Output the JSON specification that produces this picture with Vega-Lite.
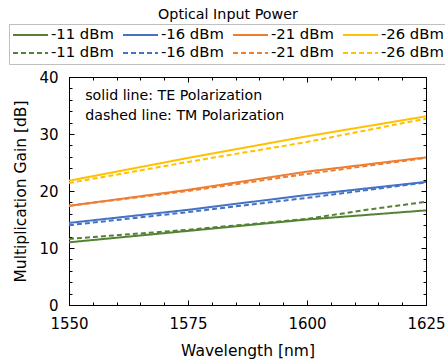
{
  "$schema": "https://vega.github.io/schema/vega-lite/v6.json",
  "autosize": {"type": "none"},
  "padding": {"left": 69, "top": 77, "right": 19, "bottom": 58},
  "width": 357,
  "height": 228,
  "title": {"text": "Optical Input Power", "anchor": "middle", "frame": "bounds", "font": "DejaVu Sans", "fontSize": 14.3, "fontWeight": "normal", "color": "#000", "offset": 1},
  "config": {
    "font": "DejaVu Sans",
    "view": {"stroke": "#000", "strokeWidth": 1},
    "axis": {"grid": false, "domainColor": "#000", "tickColor": "#000", "labelColor": "#000", "titleColor": "#000", "labelFont": "DejaVu Sans", "titleFont": "DejaVu Sans", "labelFontSize": 15, "titleFontSize": 15.5, "titleFontWeight": "normal"}
  },
  "resolve": {"axis": {"x": "independent", "y": "independent"}},
  "layer": [
    {
      "data": {"values": [
        {"series": "TE -11 dBm", "wl": 1550, "gain": 11.0},
        {"series": "TE -11 dBm", "wl": 1575, "gain": 13.0},
        {"series": "TE -11 dBm", "wl": 1600, "gain": 15.0},
        {"series": "TE -11 dBm", "wl": 1625, "gain": 16.6},
        {"series": "TM -11 dBm", "wl": 1550, "gain": 11.6},
        {"series": "TM -11 dBm", "wl": 1575, "gain": 13.2},
        {"series": "TM -11 dBm", "wl": 1600, "gain": 15.1},
        {"series": "TM -11 dBm", "wl": 1612.5, "gain": 16.7},
        {"series": "TM -11 dBm", "wl": 1625, "gain": 18.1},
        {"series": "TE -16 dBm", "wl": 1550, "gain": 14.4},
        {"series": "TE -16 dBm", "wl": 1575, "gain": 16.7},
        {"series": "TE -16 dBm", "wl": 1600, "gain": 19.3},
        {"series": "TE -16 dBm", "wl": 1625, "gain": 21.6},
        {"series": "TM -16 dBm", "wl": 1550, "gain": 14.0},
        {"series": "TM -16 dBm", "wl": 1575, "gain": 16.3},
        {"series": "TM -16 dBm", "wl": 1600, "gain": 18.8},
        {"series": "TM -16 dBm", "wl": 1625, "gain": 21.5},
        {"series": "TE -21 dBm", "wl": 1550, "gain": 17.4},
        {"series": "TE -21 dBm", "wl": 1575, "gain": 20.2},
        {"series": "TE -21 dBm", "wl": 1600, "gain": 23.4},
        {"series": "TE -21 dBm", "wl": 1625, "gain": 25.9},
        {"series": "TM -21 dBm", "wl": 1550, "gain": 17.4},
        {"series": "TM -21 dBm", "wl": 1575, "gain": 20.0},
        {"series": "TM -21 dBm", "wl": 1600, "gain": 23.0},
        {"series": "TM -21 dBm", "wl": 1625, "gain": 25.8},
        {"series": "TE -26 dBm", "wl": 1550, "gain": 21.8},
        {"series": "TE -26 dBm", "wl": 1575, "gain": 25.8},
        {"series": "TE -26 dBm", "wl": 1600, "gain": 29.6},
        {"series": "TE -26 dBm", "wl": 1625, "gain": 33.1},
        {"series": "TM -26 dBm", "wl": 1550, "gain": 21.4},
        {"series": "TM -26 dBm", "wl": 1575, "gain": 25.1},
        {"series": "TM -26 dBm", "wl": 1600, "gain": 28.6},
        {"series": "TM -26 dBm", "wl": 1625, "gain": 32.7}
      ]},
      "mark": {"type": "line", "strokeWidth": 2, "clip": true},
      "encoding": {
        "x": {"field": "wl", "type": "quantitative", "scale": {"domain": [1550, 1625], "nice": false, "zero": false},
          "axis": {"orient": "bottom", "title": "Wavelength [nm]", "format": "d", "values": [1550,1555,1560,1565,1570,1575,1580,1585,1590,1595,1600,1605,1610,1615,1620,1625],
            "labelExpr": "datum.value % 25 === 0 ? datum.label : ''",
            "tickSize": {"condition": {"test": "datum.value % 25 === 0", "value": -5}, "value": -3},
            "labelPadding": 16, "titlePadding": 10, "labelFlush": false, "labelOverlap": false}},
        "y": {"field": "gain", "type": "quantitative", "scale": {"domain": [0, 40], "nice": false},
          "axis": {"orient": "left", "title": "Multiplication Gain [dB]", "values": [0,2,4,6,8,10,12,14,16,18,20,22,24,26,28,30,32,34,36,38,40],
            "labelExpr": "datum.value % 10 === 0 ? datum.label : ''",
            "tickSize": {"condition": {"test": "datum.value % 10 === 0", "value": -5}, "value": -3},
            "labelPadding": 16, "titlePadding": 10, "labelOverlap": false}},
        "color": {"field": "series", "type": "nominal",
          "scale": {"domain": ["TE -11 dBm","TE -16 dBm","TE -21 dBm","TE -26 dBm","TM -11 dBm","TM -16 dBm","TM -21 dBm","TM -26 dBm"],
            "range": ["#548235","#4472C4","#ED7D31","#FFC000","#548235","#4472C4","#ED7D31","#FFC000"]},
          "legend": {"orient": "none", "legendX": -60, "legendY": -53, "title": null, "columns": 4, "direction": "horizontal",
            "labelExpr": "slice(datum.label, 3)", "labelFont": "DejaVu Sans", "labelFontSize": 14.8, "labelColor": "#000",
            "symbolType": "stroke", "symbolSize": 1225, "symbolStrokeWidth": 2, "labelOffset": 2, "clipHeight": 16,
            "columnPadding": 8, "rowPadding": 2, "padding": 3, "strokeColor": "#bfbfbf"}},
        "strokeDash": {"field": "series", "type": "nominal",
          "scale": {"domain": ["TE -11 dBm","TE -16 dBm","TE -21 dBm","TE -26 dBm","TM -11 dBm","TM -16 dBm","TM -21 dBm","TM -26 dBm"],
            "range": [[1,0],[1,0],[1,0],[1,0],[5,3],[5,3],[5,3],[5,3]]},
          "legend": {"orient": "none", "legendX": -60, "legendY": -53, "title": null, "columns": 4, "direction": "horizontal",
            "labelExpr": "slice(datum.label, 3)", "labelFont": "DejaVu Sans", "labelFontSize": 14.8, "labelColor": "#000",
            "symbolType": "stroke", "symbolSize": 1225, "symbolStrokeWidth": 2, "labelOffset": 2, "clipHeight": 16,
            "columnPadding": 8, "rowPadding": 2, "padding": 3, "strokeColor": "#bfbfbf"}}
      }
    },
    {
      "data": {"values": [
        {"wl": 1553.4, "gain": 36.7, "t": "solid line: TE Polarization"},
        {"wl": 1553.4, "gain": 33.1, "t": "dashed line: TM Polarization"}
      ]},
      "mark": {"type": "text", "align": "left", "baseline": "middle", "font": "DejaVu Sans", "fontSize": 14.2, "color": "#000"},
      "encoding": {
        "x": {"field": "wl", "type": "quantitative", "scale": {"domain": [1550, 1625], "nice": false, "zero": false},
          "axis": {"orient": "top", "title": null, "labels": false, "domain": false, "values": [1550,1555,1560,1565,1570,1575,1580,1585,1590,1595,1600,1605,1610,1615,1620,1625],
            "tickSize": {"condition": {"test": "datum.value % 25 === 0", "value": -5}, "value": -3}}},
        "y": {"field": "gain", "type": "quantitative", "scale": {"domain": [0, 40], "nice": false},
          "axis": {"orient": "right", "title": null, "labels": false, "domain": false, "values": [0,2,4,6,8,10,12,14,16,18,20,22,24,26,28,30,32,34,36,38,40],
            "tickSize": {"condition": {"test": "datum.value % 10 === 0", "value": -5}, "value": -3}}},
        "text": {"field": "t", "type": "nominal"}
      }
    }
  ]
}
